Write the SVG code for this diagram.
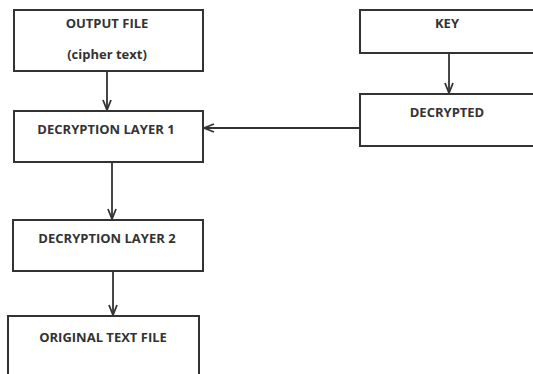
<svg xmlns="http://www.w3.org/2000/svg" width="533" height="374" viewBox="0 0 533 374">
<defs>
<style>
.box{fill:#fff;stroke:#333;stroke-width:2}
.t{font-family:"Open Sans",sans-serif;font-weight:700;font-size:13px;fill:#333;text-anchor:middle}
.c{stroke:#333;stroke-width:1.8;fill:none}
</style>
<marker id="ah" viewBox="0 0 12 10" refX="11" refY="5" markerWidth="12" markerHeight="10" markerUnits="userSpaceOnUse" orient="auto">
<path d="M1,1 L11,5 L1,9" fill="none" stroke="#333" stroke-width="1.8"/>
</marker>
</defs>
<rect width="533" height="374" fill="#fff"/>
<g id="connectors">
<line class="c" x1="107" y1="71" x2="107" y2="110" marker-end="url(#ah)"/>
<line class="c" x1="449" y1="53" x2="449" y2="93" marker-end="url(#ah)"/>
<line class="c" x1="360" y1="128" x2="204" y2="128" marker-end="url(#ah)"/>
<line class="c" x1="112" y1="162" x2="112" y2="219" marker-end="url(#ah)"/>
<line class="c" x1="113" y1="271" x2="113" y2="315" marker-end="url(#ah)"/>
</g>
<g id="output-file">
<rect class="box" x="14" y="10" width="189" height="61"/>
<text class="t" x="107" y="28">OUTPUT FILE</text>
<text class="t" x="107" y="59">(cipher text)</text>
</g>
<g id="key">
<rect class="box" x="360" y="10" width="190" height="43"/>
<text class="t" x="447" y="28">KEY</text>
</g>
<g id="decrypted">
<rect class="box" x="360" y="94" width="190" height="52"/>
<text class="t" x="447" y="117">DECRYPTED</text>
</g>
<g id="decryption-layer-1">
<rect class="box" x="14" y="111" width="189" height="51"/>
<text class="t" x="106" y="134">DECRYPTION LAYER 1</text>
</g>
<g id="decryption-layer-2">
<rect class="box" x="13" y="220" width="190" height="51"/>
<text class="t" x="107" y="243">DECRYPTION LAYER 2</text>
</g>
<g id="original-text-file">
<rect class="box" x="8" y="316" width="191" height="70"/>
<text class="t" x="103" y="342">ORIGINAL TEXT FILE</text>
</g>
</svg>
